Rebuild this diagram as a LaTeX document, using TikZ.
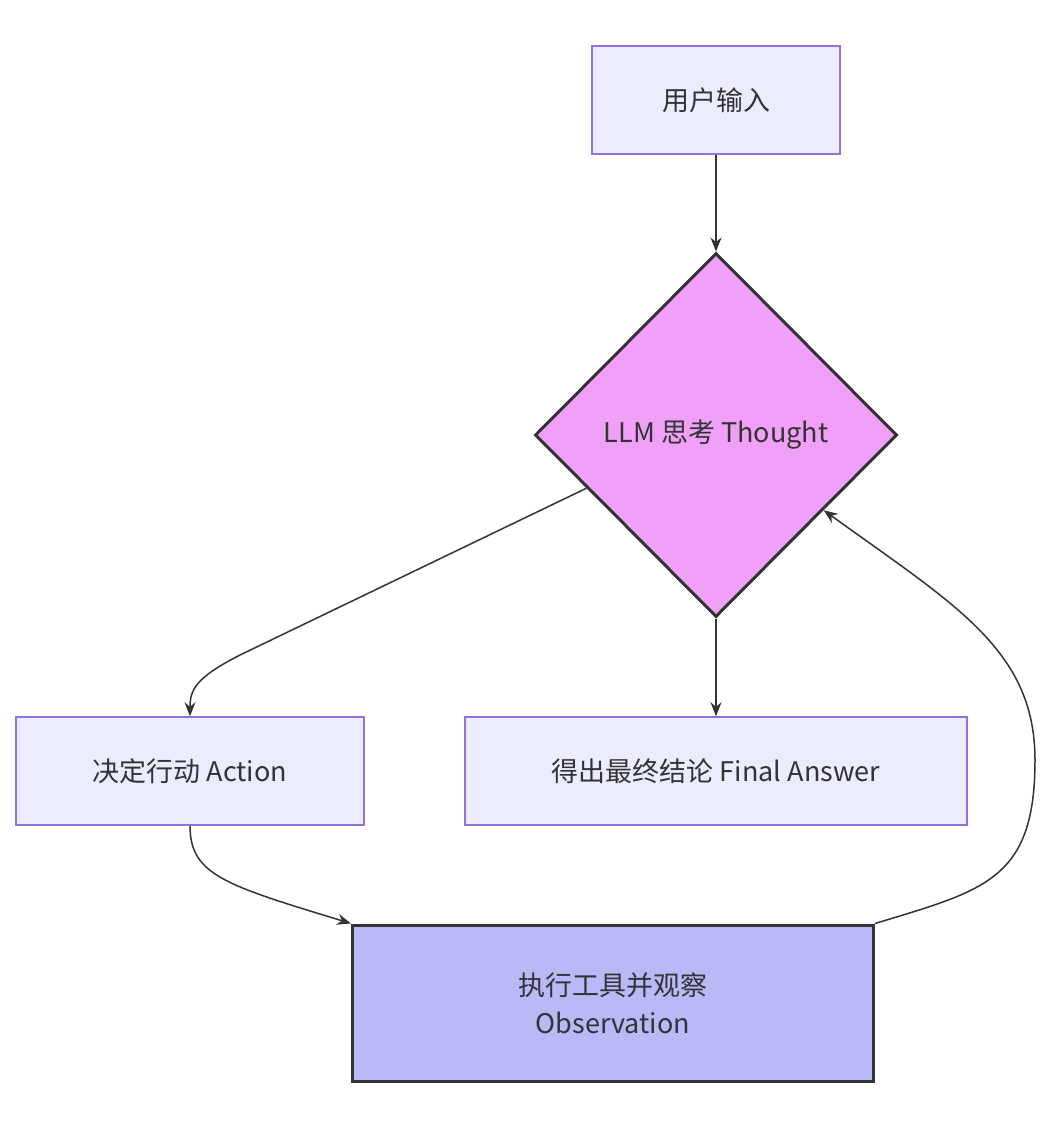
\documentclass[tikz,border=0pt]{standalone}
\usepackage{fontspec}
\setmainfont{Noto Sans CJK SC}
\usetikzlibrary{shapes.geometric}
\usetikzlibrary{arrows.meta}
\usetikzlibrary{calc}
\definecolor{boxfill}{HTML}{ECECFF}
\definecolor{boxline}{HTML}{9370DB}
\definecolor{thinkfill}{HTML}{F0A0F8}
\definecolor{obsfill}{HTML}{B9B9F8}
\definecolor{edge}{HTML}{333333}
\tikzset{
  stage/.style={draw=boxline,fill=boxfill,line width=1.5pt,minimum height=108pt,inner sep=0pt},
  flow/.style={draw=edge,line width=1.5pt,-{Stealth[length=14pt,width=11pt]}}
}
\begin{document}
\begin{tikzpicture}[x=1pt,y=-1pt,font=\fontsize{27}{38}\selectfont,text=edge]
  \useasboundingbox (0,0) rectangle (1064,1122);
  \node[stage,minimum width=248pt] (input) at (716,100) {用户输入};
  \node[diamond,draw=edge,fill=thinkfill,line width=3pt,minimum width=362pt,minimum height=364pt,inner sep=0pt] (llm) at (716,435) {LLM 思考 Thought};
  \node[stage,minimum width=348pt] (act) at (190,771) {决定行动 Action};
  \node[stage,minimum width=502pt] (final) at (716,771) {得出最终结论 Final Answer};
  \node[draw=edge,fill=obsfill,line width=3pt,minimum width=521pt,minimum height=156pt,align=center,inner sep=0pt] (obs) at (613,1003) {执行工具并观察\\Observation};

  \draw[flow] (input) -- (llm);
  \draw[flow] (llm) -- (final);
  \draw[flow] ($(llm.west)!0.29!(llm.south)$) -- (240,655) .. controls (195,678) and (190,690) .. (act.north);
  \draw[flow] (act.south) .. controls (190,875) and (225,885) .. (obs.north west);
  \draw[flow] (obs.north east) .. controls (985,890) and (1035,880) .. (1035,760)
    .. controls (1035,650) and (955,605) .. ($(llm.east)!0.41!(llm.south)$);
\end{tikzpicture}
\end{document}
